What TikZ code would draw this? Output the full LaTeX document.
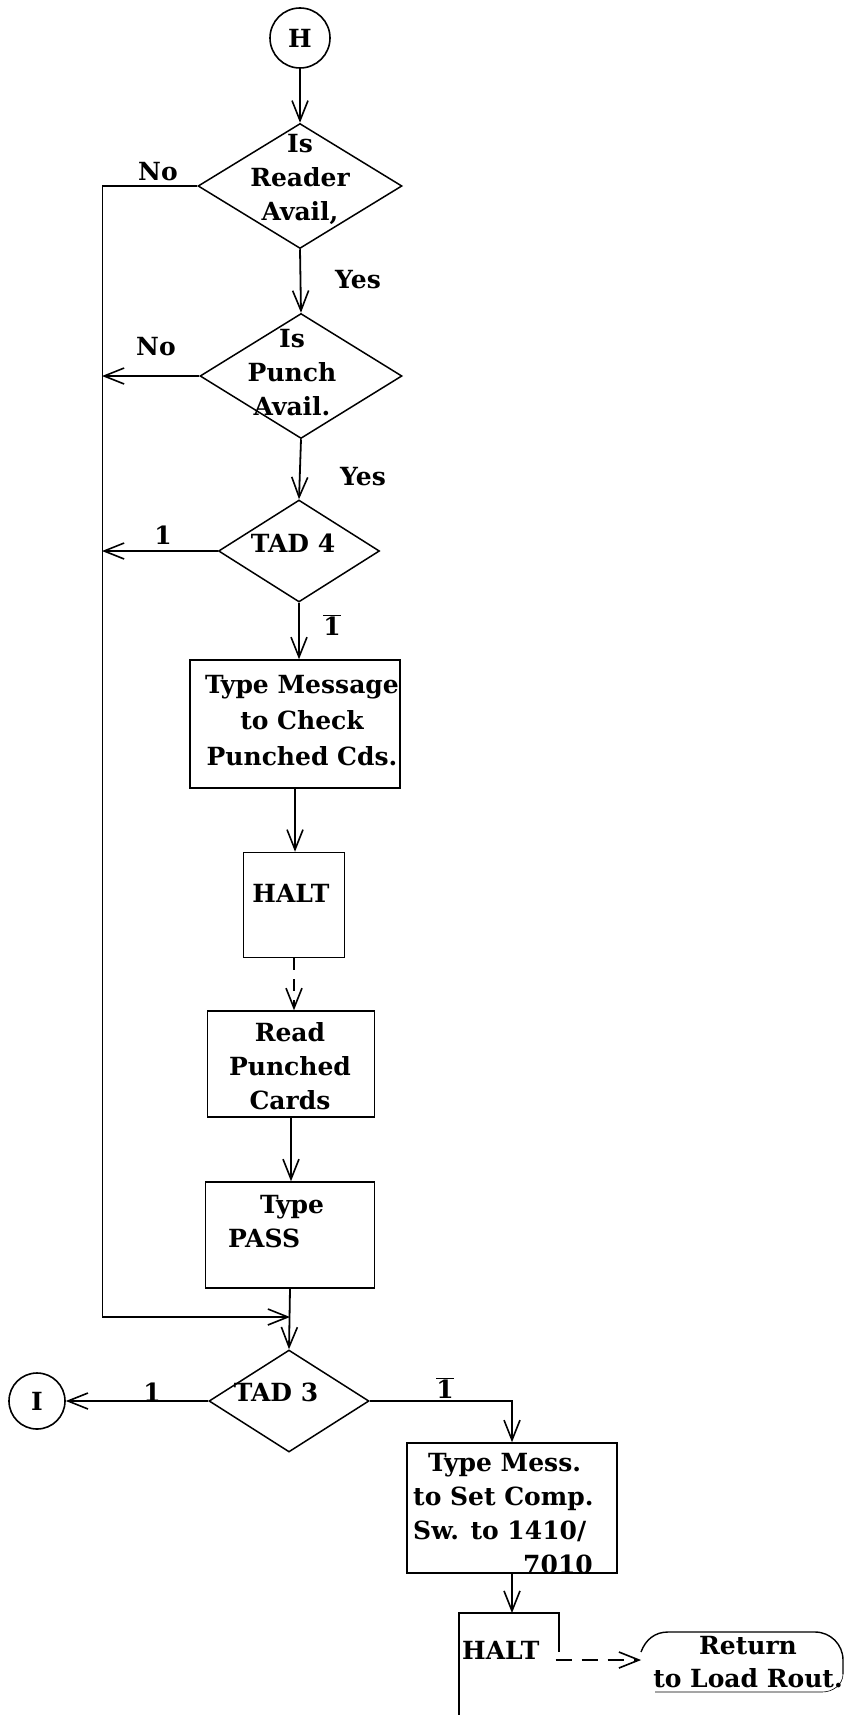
\documentclass[tikz,border=0pt]{standalone}
\usepackage{fontspec}
\setmainfont{DejaVu Serif}
\usetikzlibrary{arrows.meta,positioning,shapes.geometric,calc}

\begin{document}
\begin{tikzpicture}[x=1pt, y=-1pt,
  every node/.style={font=\fontsize{25}{34}\selectfont\bfseries},
  decision/.style={draw, diamond, line width=1.5pt, inner sep=0pt},
  stepbox/.style={draw, rectangle, line width=1.5pt, inner sep=0pt},
  conn/.style={draw, circle, line width=1.6pt, inner sep=0pt},
  dtext/.style={align=center, inner sep=0pt},
  lbl/.style={inner sep=0pt},
  wire/.style={line width=1.4pt},
  arr/.style={-{Straight Barb[length=20pt,width=16pt,line width=1.6pt]}, line width=1.8pt},
]
\useasboundingbox (0,0) rectangle (856,1715);

% main column
\node[conn, minimum size=60pt] (H) at (300,38) {H};
\node[decision, minimum width=204pt, minimum height=125pt] (rdr) at (300,186) {};
\node[dtext] (rdrt) at (300,179) {Is\\Reader\\Avail,};
\node[decision, minimum width=202pt, minimum height=125pt] (pun) at (301,376) {};
\node[dtext] (punt) at (292,373) {Is\\Punch\\Avail.};
\node[decision, minimum width=161pt, minimum height=102pt] (tad4) at (299,551) {};
\node[dtext] (tad4t) at (293,543) {TAD 4};
\node[stepbox, minimum width=210pt, minimum height=128pt] (msg) at (295,724) {};
\node[dtext, font=\fontsize{25}{36}\selectfont\bfseries] (msgt) at (302,721) {Type Message\\to Check\\Punched Cds.};
\node[stepbox, minimum width=101pt, minimum height=105pt] (halt1) at (294,905) {};
\node[dtext] (halt1t) at (291,893) {HALT};
\node[stepbox, minimum width=167pt, minimum height=106pt] (read) at (291,1064) {};
\node[dtext] (readt) at (290,1066) {Read\\Punched\\Cards};
\node[stepbox, minimum width=169pt, minimum height=106pt] (pass) at (290,1235) {};
\node[dtext, align=left, anchor=west] (passt) at (228,1222) {\hspace*{32pt}Type\\PASS};
\node[decision, minimum width=160pt, minimum height=102pt] (tad3) at (289,1401) {};
\node[dtext] (tad3t) at (276,1392) {TAD 3};
\node[conn, minimum size=56pt] (I) at (37,1401) {I};

% right branch
\node[stepbox, minimum width=210pt, minimum height=130pt] (mess) at (512,1508) {};
\node[dtext, align=left, anchor=west] (messt) at (413,1514)
  {\hspace*{15pt}Type Mess.\\to Set Comp.\\Sw. to 1410/\\\hspace*{110pt}7010};
\node[dtext, anchor=west] (halt2) at (462,1650) {HALT};
\draw[wire] (459,1715) -- (459,1613) -- (559,1613) -- (559,1652);
\coordinate (h2top) at (512,1613);
\node[dtext, font=\fontsize{25}{33}\selectfont\bfseries] (ret) at (748,1662) {Return\\to Load Rout.};
\draw[wire] (641,1652) to[out=70,in=180] (668,1632) -- (815,1632)
  to[out=0,in=90] (843,1660) -- (843,1674);
\draw[line width=0.6pt] (843,1674) to[out=-90,in=0] (822,1692) -- (655,1692);

% labels
\node[lbl] (no1) at (158,172) {No};
\node[lbl] (yes1) at (358,280) {Yes};
\node[lbl] (no2) at (156,347) {No};
\node[lbl] (yes2) at (363,477) {Yes};
\node[lbl] (one4) at (163,535) {1};
\node[lbl] (bar4) at (332,625) {$\overline{\hbox{1}}$};
\node[lbl] (one3) at (152,1392) {1};
\node[lbl] (bar3) at (445,1388) {$\overline{\hbox{1}}$};

% side line
\coordinate (lft) at (102,1317);
\coordinate (jn) at (290,1317);

\draw[arr] (H) -- (rdr.north);
\draw[arr] (rdr.south) -- (pun.north);
\draw[arr] (pun.south) -- (tad4.north);
\draw[arr] (tad4.south) -- (tad4.south |- msg.north);
\draw[arr] (msg.south) -- (msg.south |- halt1.north);
\draw[arr, dash pattern=on 12pt off 9pt] (halt1.south) -- (halt1.south |- read.north);
\draw[arr] (read.south) -- (read.south |- pass.north);
\draw[arr] (pass.south) -- (tad3.north);
\draw[wire] (rdr.west) -- (rdr.west -| lft);
\draw[line width=0.9pt] (rdr.west -| lft) -- (lft);
\draw[arr] (pun.west) -- (pun.west -| lft);
\draw[arr] (tad4.west) -- (tad4.west -| lft);
\draw[arr] (lft) -- (jn);
\draw[arr] (tad3.west) -- (tad3.west -| I.east);
\draw[arr] (tad3.east) -| (mess.north);
\draw[arr] (mess.south) -- (h2top);
\draw[arr, dash pattern=on 16pt off 10pt] ($(halt2.east)+(16,10)$) -- ($(halt2.east -| ret.west)+(-12,10)$);
\end{tikzpicture}
\end{document}
